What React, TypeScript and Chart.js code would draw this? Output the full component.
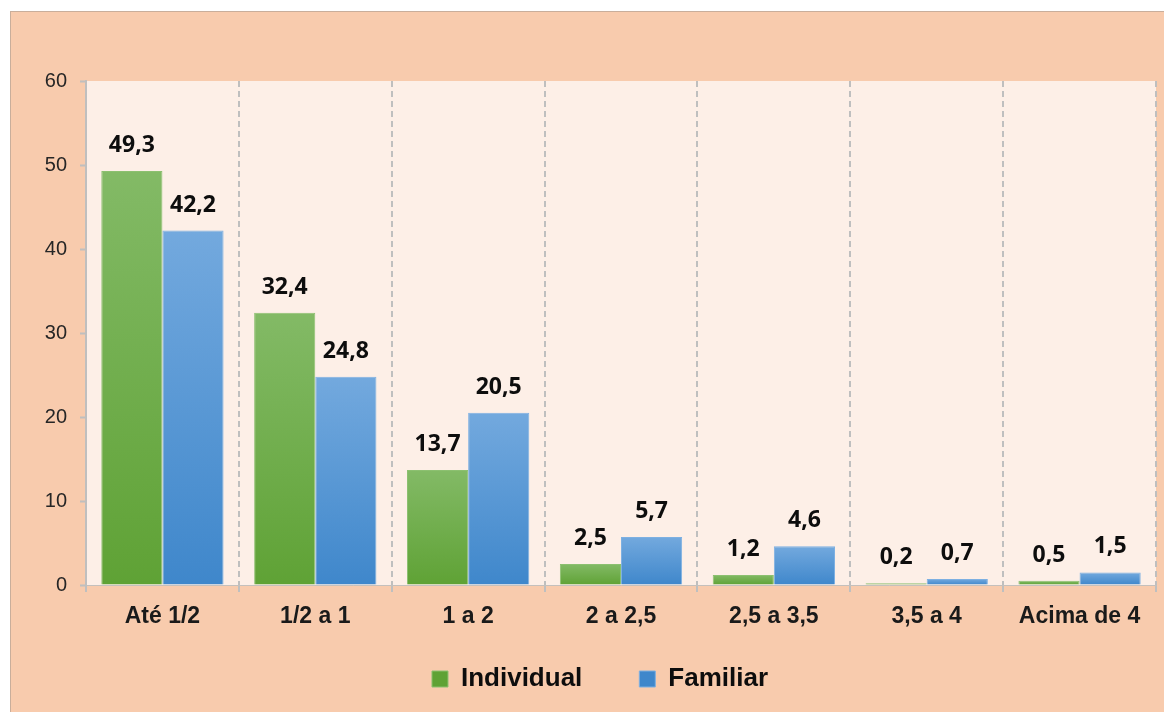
import React, { useEffect, useRef } from "react";
import { Chart, registerables } from "chart.js";

Chart.register(...registerables);

const categories = ["Até 1/2", "1/2 a 1", "1 a 2", "2 a 2,5", "2,5 a 3,5", "3,5 a 4", "Acima de 4"];
const individualValues = [49.3, 32.4, 13.7, 2.5, 1.2, 0.2, 0.5];
const familiarValues = [42.2, 24.8, 20.5, 5.7, 4.6, 0.7, 1.5];
const yMin = 0;
const yMax = 60;
const yStep = 10;

function barGradient(top: string, bottom: string, mid: string) {
  return (ctx: any) => {
    const chart = ctx.chart;
    if (ctx.type !== "data" || !chart.chartArea || !chart.scales.y) return mid;
    const ys = chart.scales.y;
    const y0 = ys.getPixelForValue(0);
    const y1 = ys.getPixelForValue(ctx.raw);
    if (!isFinite(y0) || !isFinite(y1) || Math.abs(y0 - y1) < 0.5) return bottom;
    const g = chart.ctx.createLinearGradient(0, y1, 0, y0);
    g.addColorStop(0, top);
    g.addColorStop(1, bottom);
    return g;
  };
}

const plotBackground = {
  id: "plotBackground",
  beforeDraw(chart: any) {
    const { ctx, chartArea } = chart;
    if (!chartArea) return;
    ctx.save();
    ctx.fillStyle = "#FDEFE7";
    ctx.fillRect(chartArea.left, chartArea.top, chartArea.right - chartArea.left, chartArea.bottom - chartArea.top);
    ctx.restore();
  },
};

const valueLabels = {
  id: "valueLabels",
  afterDatasetsDraw(chart: any) {
    const ctx = chart.ctx;
    ctx.save();
    ctx.font = '700 23px "Open Sans"';
    ctx.fillStyle = "#0d0d0d";
    ctx.textAlign = "center";
    ctx.textBaseline = "alphabetic";
    chart.data.datasets.forEach((ds: any, i: number) => {
      const meta = chart.getDatasetMeta(i);
      meta.data.forEach((bar: any, j: number) => {
        const v = ds.data[j] as number;
        ctx.fillText(v.toFixed(1).replace(".", ","), bar.x, bar.y - 19);
      });
    });
    ctx.restore();
  },
};

export default function App() {
  const ref = useRef<HTMLCanvasElement | null>(null);

  useEffect(() => {
    if (!ref.current) return;
    const chart = new Chart(ref.current, {
      type: "bar",
      data: {
        labels: categories,
        datasets: [
          {
            label: "Individual",
            data: individualValues,
            backgroundColor: barGradient("#83BA66", "#5FA235", "#6AAA45"),
            borderColor: "#8CC070",
            borderWidth: 1,
            categoryPercentage: 0.8,
            barPercentage: 1.0,
          },
          {
            label: "Familiar",
            data: familiarValues,
            backgroundColor: barGradient("#73A9DE", "#3F87CB", "#5597D6"),
            borderColor: "#7DB0E2",
            borderWidth: 1,
            categoryPercentage: 0.8,
            barPercentage: 1.0,
          },
        ],
      },
      options: {
        responsive: false,
        animation: false,
        layout: { padding: { left: 33, right: 8, top: 69, bottom: 10 } },
        plugins: {
          tooltip: { enabled: false },
          legend: {
            position: "bottom",
            labels: {
              boxWidth: 16,
              boxHeight: 16,
              padding: 31,
              color: "#0d0d0d",
              font: { family: '"Liberation Sans", Arial, sans-serif', size: 26, weight: "bold" },
              generateLabels: (c: any) =>
                Chart.defaults.plugins.legend.labels
                  .generateLabels(c)
                  .map((l: any, i: number) => (i === 0 ? { ...l, text: l.text + "\u2002\u2002" } : l)),
            },
          },
        },
        scales: {
          x: {
            afterFit: (s: any) => {
              s.height = 50;
            },
            grid: {
              display: true,
              offset: true,
              drawOnChartArea: true,
              color: "#BFBFBF",
              lineWidth: 2,
              tickLength: 7,
              tickBorderDash: [6, 4],
            },
            border: { display: true, color: "#C4C0BD", width: 1, dash: [6, 4] },
            ticks: {
              color: "#1a1a1a",
              padding: 11,
              font: { family: '"Liberation Sans", Arial, sans-serif', size: 23, weight: "bold" },
            },
          },
          y: {
            min: yMin,
            max: yMax,
            afterFit: (s: any) => {
              s.width = 42;
            },
            grid: {
              display: true,
              drawOnChartArea: false,
              drawTicks: true,
              tickLength: 6,
              tickWidth: 2,
              tickColor: "#BFBFBF",
              color: "#BFBFBF",
            },
            border: { display: true, color: "#BFBFBF", width: 2 },
            ticks: {
              stepSize: yStep,
              color: "#262626",
              padding: 13,
              font: { family: '"Liberation Sans", Arial, sans-serif', size: 20 },
            },
          },
        },
      },
      plugins: [plotBackground, valueLabels],
    });
    return () => chart.destroy();
  }, []);

  return (
    <div
      style={{
        position: "absolute",
        left: 10,
        top: 11,
        width: 1154,
        height: 701,
        boxSizing: "border-box",
        background: "#F8CBAD",
        borderLeft: "1px solid #C9AE9B",
        borderTop: "1px solid #C9AE9B",
        overflow: "hidden",
      }}
    >
      <canvas ref={ref} width={1153} height={700} style={{ display: "block", width: 1153, height: 700 }} />
    </div>
  );
}
